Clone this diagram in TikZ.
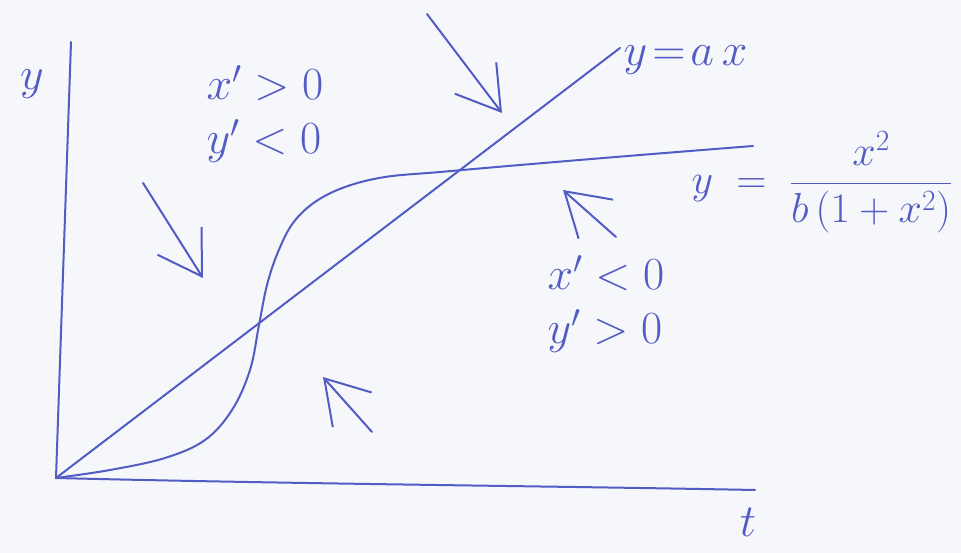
\documentclass[tikz,border=0pt]{standalone}
\usepackage{fix-cm}
\usepackage{amsmath}
\usetikzlibrary{arrows.meta}
\definecolor{ink}{RGB}{82,92,196}
\definecolor{paper}{RGB}{245,247,251}
\tikzset{
  pen/.style={draw=ink, line width=2pt, line cap=round, line join=round},
  flow/.style={pen, -{Straight Barb[length=42pt,width=52pt]}},
  lbl/.style={text=ink, font=\fontsize{46}{54}\selectfont, align=left}
}
\begin{document}
\begin{tikzpicture}[x=1pt,y=-1pt]
\fill[paper] (0,0) rectangle (961,553);
\useasboundingbox (0,0) rectangle (961,553);
% axes
\coordinate (O) at (56,478);
\coordinate (ytop) at (71,42);
\coordinate (tend) at (755,490);
\draw[pen] (ytop) -- (O) .. controls (300,484) and (550,486) .. (tend);
\node[lbl] (ylab) at (32,84) {$y$};
\node[lbl] (tlab) at (748,522) {$t$};
% nullclines
\coordinate (lend) at (620,48);
\draw[pen] (O) -- (lend);
\node[lbl, anchor=west] (line) at (620,60) {$y\!=\!a\,x$};
\draw[pen] plot[smooth, tension=0.6] coordinates {(O) (110,470) (165,458) (205,440)
  (232,410) (250,370) (259,325) (267,285) (278,252) (293,223) (315,202)
  (345,187) (385,177) (440,172) (520,165) (640,155) (753,146)};
\node[lbl, anchor=west, font=\fontsize{42}{50}\selectfont] (sig) at (688,182)
  {$y\;=\;\dfrac{x^{2}}{b\,(1+x^{2})}$};
% regions
\node[lbl] (upper) at (265,114) {$x'>0$\\$y'<0$};
\node[lbl] (lower) at (606,304) {$x'<0$\\$y'>0$};
% directions
\coordinate (a1) at (143,183); \coordinate (b1) at (203,278);
\coordinate (a2) at (427,14);  \coordinate (b2) at (502,113);
\coordinate (a3) at (616,237); \coordinate (b3) at (563,190);
\coordinate (a4) at (372,432); \coordinate (b4) at (323,377);
\draw[flow] (a1) -- (b1);
\draw[flow] (a2) -- (b2);
\draw[flow] (a3) -- (b3);
\draw[flow] (a4) -- (b4);
\end{tikzpicture}
\end{document}
